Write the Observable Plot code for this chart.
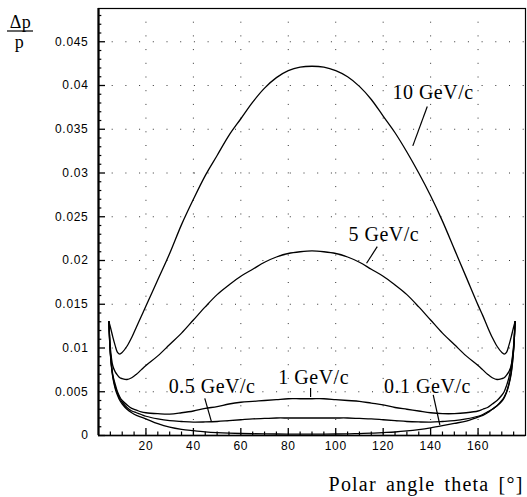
<!DOCTYPE html>
<html><head><meta charset="utf-8">
<script src="https://cdn.jsdelivr.net/npm/d3@7"></script>
<script src="https://cdn.jsdelivr.net/npm/@observablehq/plot@0.6"></script>
<style>body{margin:0;background:#fff}</style>
</head><body><div id="chart"></div>
<script>
// Polar angle theta (degrees) sampling shared by all curves
const theta = [4.4,5,6,7,8,9,10,12,14,16,18,20,25,30,35,40,45,50,55,60,65,70,75,80,85,90,
  95,100,105,110,115,120,125,130,135,140,145,150,155,160,162,164,166,168,170,171,172,173,174,175,175.6];

const p10 = [0.0130,0.0124,0.0113,0.0103,0.0095,0.0093,0.0095,0.0102,0.0112,0.0124,0.0136,0.0148,0.0178,0.0208,0.0241,0.0270,0.0297,0.0320,0.0343,0.0362,0.0381,0.0397,0.0409,0.0417,0.0421,0.0422,
  0.0421,0.0417,0.0410,0.0399,0.0384,0.0365,0.0346,0.0324,0.0300,0.0274,0.0245,0.0213,0.0181,0.0149,0.0137,0.0124,0.0112,0.0102,0.0095,0.0093,0.0095,0.0103,0.0113,0.0124,0.0130];
const p5 = [0.0130,0.0100,0.0080,0.0073,0.0069,0.0066,0.0065,0.0064,0.0066,0.0070,0.0075,0.0080,0.0091,0.0104,0.0117,0.0132,0.0147,0.0161,0.0172,0.0182,0.0190,0.0198,0.0204,0.0208,0.0210,0.0211,
  0.0210,0.0208,0.0204,0.0198,0.0190,0.0182,0.0172,0.0161,0.0147,0.0132,0.0117,0.0104,0.0091,0.0080,0.0075,0.0070,0.0066,0.0064,0.0065,0.0066,0.0069,0.0073,0.0080,0.0100,0.0130];
const p1 = [0.0130,0.0095,0.0070,0.0059,0.0050,0.0044,0.0040,0.0035,0.0031,0.0029,0.0027,0.0026,0.0025,0.00245,0.0026,0.0028,0.0031,0.0033,0.0036,0.0038,0.0039,0.0040,0.0041,0.0042,0.0042,0.0042,
  0.0042,0.0041,0.0040,0.0039,0.0037,0.0035,0.0032,0.0030,0.0028,0.0026,0.0025,0.0025,0.0026,0.0028,0.0030,0.0032,0.0036,0.0040,0.0046,0.0050,0.0057,0.0066,0.0080,0.0103,0.0130];
const p05 = [0.0130,0.0094,0.0068,0.0056,0.0048,0.0042,0.0038,0.0032,0.0028,0.0026,0.0024,0.0022,0.0019,0.0017,0.0016,0.00153,0.00155,0.0016,0.0017,0.0018,0.0019,0.00195,0.0020,0.0020,0.0020,0.0020,
  0.0020,0.0020,0.0020,0.00195,0.0019,0.0018,0.0017,0.0016,0.00155,0.00153,0.0016,0.0017,0.0019,0.0022,0.0024,0.0027,0.0030,0.0034,0.0039,0.0043,0.0049,0.0058,0.0071,0.0098,0.0130];
const p01 = [0.0130,0.0093,0.0067,0.0054,0.0046,0.0040,0.0036,0.0030,0.0026,0.0023,0.0021,0.0019,0.00135,0.00095,0.0007,0.00055,0.00042,0.00033,0.00027,0.00023,0.0002,0.00018,0.00017,0.00016,0.00016,0.00016,
  0.00016,0.00017,0.00019,0.00022,0.00027,0.00033,0.0004,0.00052,0.00068,0.00088,0.00112,0.00138,0.00165,0.0021,0.0023,0.0026,0.0030,0.0034,0.0040,0.0044,0.0050,0.0059,0.0073,0.0098,0.0130];

const seriesNames = ["10 GeV/c","5 GeV/c","1 GeV/c","0.5 GeV/c","0.1 GeV/c"];
const seriesValues = [p10, p5, p1, p05, p01];

// curve labels and pointer lines (data coordinates)
const labelText  = ["10 GeV/c","5 GeV/c","1 GeV/c","0.5 GeV/c","0.1 GeV/c"];
const labelTheta = [123.9, 105.4, 75.8, 29.6, 120.4];
const labelValue = [0.03846, 0.02226, 0.00589, 0.00486, 0.00491];
const ptrTheta1 = [138.6, 117.5, 89.4, 44.8, 141.1];
const ptrValue1 = [0.0376, 0.02158, 0.00543, 0.00425, 0.00463];
const ptrTheta2 = [132.5, 113.0, 89.4, 47.6, 143.9];
const ptrValue2 = [0.0331, 0.01968, 0.00440, 0.00158, 0.00120];

const xTicks = [20,40,60,80,100,120,140,160];
const yTicks = [0,0.005,0.01,0.015,0.02,0.025,0.03,0.035,0.04,0.045];
const yTickLabels = ["0","0.005","0.01","0.015","0.02","0.025","0.03","0.035","0.04","0.045"];
const xTitle = "Polar angle theta [°]";

const rows = [];
seriesValues.forEach((vals, s) => vals.forEach((v, i) => rows.push({series: seriesNames[s], theta: theta[i], value: v})));
const labels = labelText.map((t, i) => ({text: t, theta: labelTheta[i], value: labelValue[i]}));
const pointers = labelText.map((t, i) => ({x1: ptrTheta1[i], y1: ptrValue1[i], x2: ptrTheta2[i], y2: ptrValue2[i]}));

const xMinor = d3.range(5, 180, 5).filter(d => d % 20 !== 0);
const yMinor = d3.range(1, 49).map(d => d / 1000).filter(d => Math.round(d * 1000) % 5 !== 0);

const serif = "Liberation Serif, Times New Roman, serif";

const chart = Plot.plot({
  width: 527, height: 497,
  marginLeft: 98, marginRight: 2, marginTop: 8, marginBottom: 62,
  style: {fontFamily: "Liberation Sans, Arial, sans-serif", fontSize: "12px", background: "white", color: "black"},
  x: {domain: [0, 180]},
  y: {domain: [0, 0.0488]},
  marks: [
    Plot.ruleX(xTicks, {stroke: "#333", strokeDasharray: "1 12.7"}),
    Plot.ruleY(yTicks.slice(1), {stroke: "#333", strokeDasharray: "1 12.7"}),
    Plot.ruleY(yTicks, {x1: 0, x2: 2.95, stroke: "black", strokeWidth: 1.3}),
    Plot.ruleY(yMinor, {x1: 0, x2: 1.4, stroke: "black", strokeWidth: 1.2}),
    Plot.ruleX(xTicks, {y1: 0, y2: 0.0008, stroke: "black", strokeWidth: 1.3}),
    Plot.ruleX(xMinor, {y1: 0, y2: 0.0004, stroke: "black", strokeWidth: 1.2}),
    Plot.frame({stroke: "black", strokeWidth: 1.2}),
    Plot.ruleX([0], {stroke: "black", strokeWidth: 2.2}),
    Plot.ruleY([0], {stroke: "black", strokeWidth: 1.6}),
    Plot.line(rows, {x: "theta", y: "value", z: "series", stroke: "black", strokeWidth: 1.3, curve: "catmull-rom"}),
    Plot.link(pointers, {x1: "x1", y1: "y1", x2: "x2", y2: "y2", stroke: "black", strokeWidth: 1.2}),
    Plot.text(labels, {x: "theta", y: "value", text: "text", textAnchor: "start", lineAnchor: "bottom", fontFamily: serif, fontSize: 20, fill: "black"}),
    Plot.axisX(xTicks, {tickSize: 0, tickPadding: 6, label: null, fontSize: 12}),
    Plot.axisY(yTicks, {tickSize: 0, tickPadding: 10, label: null, fontSize: 12, tickFormat: d => yTickLabels[yTicks.indexOf(d)]}),
    Plot.text([xTitle], {frameAnchor: "bottom-right", text: d => d, dx: -2, dy: 55, textAnchor: "end", lineAnchor: "bottom", fontFamily: serif, fontSize: 20, fill: "black"}),
    Plot.text(["Δp"], {frameAnchor: "top-left", text: d => d, dx: -78, dy: 19, textAnchor: "middle", lineAnchor: "bottom", fontFamily: serif, fontSize: 18, fill: "black"}),
    Plot.text(["p"], {frameAnchor: "top-left", text: d => d, dx: -79, dy: 39, textAnchor: "middle", lineAnchor: "bottom", fontFamily: serif, fontSize: 18, fill: "black"})
  ]
});
document.getElementById("chart").appendChild(chart);

const svg = d3.select(chart);
svg.append("line").attr("x1", 7).attr("x2", 33).attr("y1", 31).attr("y2", 31).attr("stroke", "black").attr("stroke-width", 1.2);
svg.selectAll('g[aria-label="x-axis tick label"] text, g[aria-label="y-axis tick label"] text').style("letter-spacing", "0.7px");
svg.selectAll('g[aria-label="text"] text').style("letter-spacing", "0.5px");
svg.selectAll('g[aria-label="text"] text').filter(function() { return this.textContent === xTitle; })
  .style("letter-spacing", "1.2px").style("word-spacing", "3px");
</script>
</body></html>
